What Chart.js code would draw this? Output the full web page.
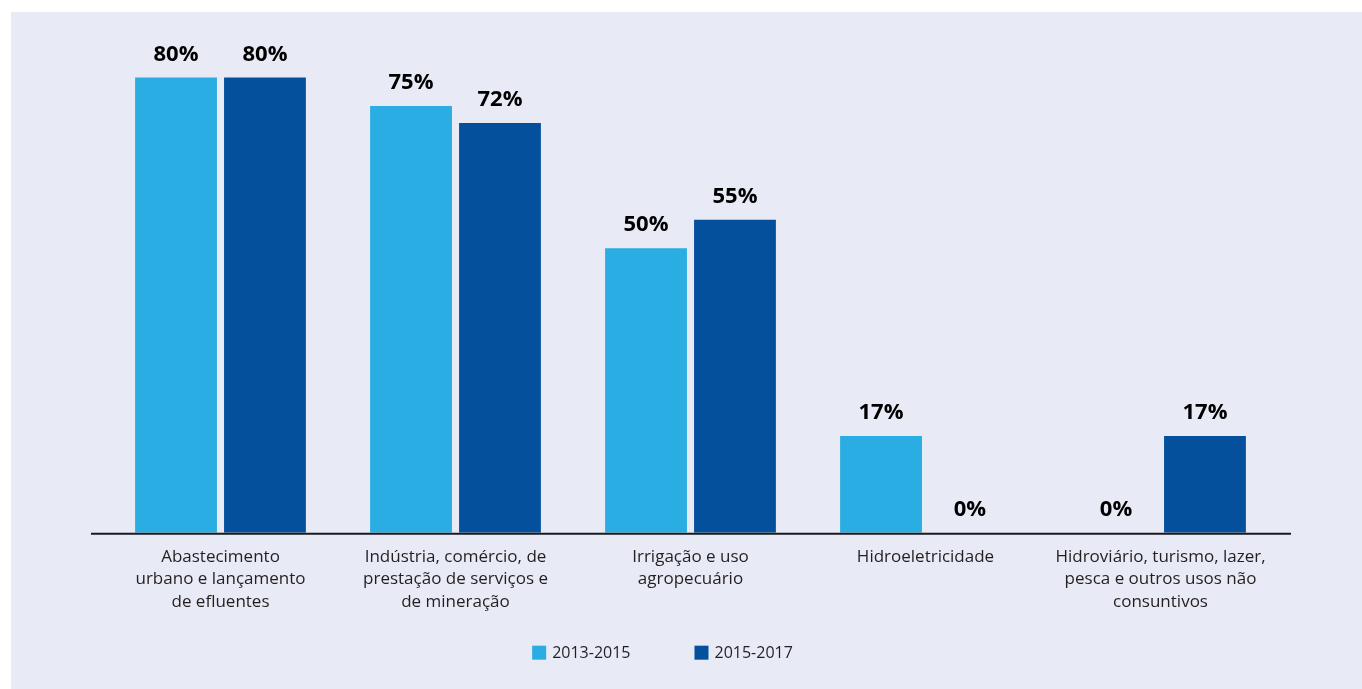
<!DOCTYPE html>
<html lang="pt">
<head>
<meta charset="utf-8">
<script src="https://cdn.jsdelivr.net/npm/chart.js@4"></script>
<style>
  html, body { margin: 0; padding: 0; background: #fff; }
  #panel { position: absolute; left: 11px; top: 12px; width: 1351px; height: 677px; background: #e8eaf6; }
</style>
</head>
<body>
<div id="panel"><canvas id="usosChart"></canvas></div>
<script>
'use strict';

const categories = [
  ['Abastecimento', 'urbano e lançamento', 'de efluentes'],
  ['Indústria, comércio, de', 'prestação de serviços e', 'de mineração'],
  ['Irrigação e uso', 'agropecuário'],
  ['Hidroeletricidade'],
  ['Hidroviário, turismo, lazer,', 'pesca e outros usos não', 'consuntivos']
];
const periodLabels = ['2013-2015', '2015-2017'];
const values2013 = [80, 75, 50, 17, 0];
const values2015 = [80, 72, 55, 0, 17];

const FONT = '"Open Sans", sans-serif';

// percent labels above each bar
const barLabels = {
  id: 'barLabels',
  afterDatasetsDraw(chart) {
    const ctx = chart.ctx;
    ctx.save();
    ctx.font = 'bold 22px ' + FONT;
    ctx.fillStyle = '#000';
    ctx.textAlign = 'center';
    ctx.textBaseline = 'alphabetic';
    chart.data.datasets.forEach((ds, i) => {
      chart.getDatasetMeta(i).data.forEach((bar, j) => {
        ctx.fillText(ds.data[j] + '%', bar.x, bar.y - 17);
      });
    });
    ctx.restore();
  }
};

// axis line, a bit longer than the plot area
const baseLine = {
  id: 'baseLine',
  afterDatasetsDraw(chart) {
    const { ctx, chartArea } = chart;
    ctx.save();
    ctx.strokeStyle = '#1a1a1a';
    ctx.lineWidth = 2;
    ctx.beginPath();
    ctx.moveTo(chartArea.left - 12, chartArea.bottom + 1);
    ctx.lineTo(chartArea.right + 13, chartArea.bottom + 1);
    ctx.stroke();
    ctx.restore();
  }
};

// legend below the labels, slightly left of centre like the original
const bottomLegend = {
  id: 'bottomLegend',
  afterDraw(chart) {
    const { ctx, chartArea } = chart;
    const box = 14, gap = 6, itemGap = 64;
    ctx.save();
    ctx.font = '16px ' + FONT;
    ctx.textBaseline = 'middle';
    ctx.textAlign = 'left';
    const items = chart.data.datasets.map(ds => ({
      text: ds.label, color: ds.backgroundColor, w: box + gap + ctx.measureText(ds.label).width
    }));
    const total = items.reduce((s, it) => s + it.w, 0) + itemGap * (items.length - 1);
    let x = (chartArea.left + chartArea.right) / 2 - 28 - total / 2;
    const y = chartArea.bottom + 120;
    items.forEach(it => {
      ctx.fillStyle = it.color;
      ctx.fillRect(x, y - box / 2, box, box);
      ctx.fillStyle = '#231f20';
      ctx.fillText(it.text, x + box + gap, y + 1);
      x += it.w + itemGap;
    });
    ctx.restore();
  }
};

new Chart(document.getElementById('usosChart'), {
  type: 'bar',
  data: {
    labels: categories,
    datasets: [
      { label: periodLabels[0], data: values2013, backgroundColor: '#29ade3' },
      { label: periodLabels[1], data: values2015, backgroundColor: '#05509c' }
    ]
  },
  options: {
    responsive: true,
    maintainAspectRatio: false,
    animation: false,
    datasets: { bar: { barPercentage: 0.92, categoryPercentage: 0.757 } },
    layout: { padding: { left: 92, right: 84, top: 20, bottom: 63 } },
    plugins: {
      legend: { display: false },
      tooltip: { enabled: false }
    },
    scales: {
      y: { display: false, min: 0, max: 88 },
      x: {
        grid: { display: false, drawTicks: false },
        border: { display: false },
        ticks: {
          color: '#231f20',
          padding: 13,
          maxRotation: 0,
          font: { family: FONT, size: 17, lineHeight: 1.32 }
        }
      }
    }
  },
  plugins: [barLabels, baseLine, bottomLegend]
});
</script>
</body>
</html>
